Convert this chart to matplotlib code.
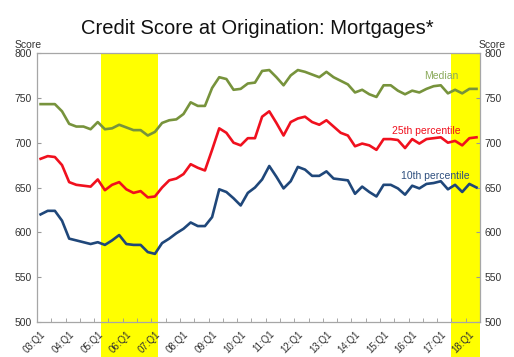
import numpy as np
import matplotlib.pyplot as plt

quarters = [f"{y:02d}:Q{q}" for y in range(3, 19) for q in range(1, 5)][:62]

median = [743, 743, 743, 735, 721, 718, 718, 715, 723, 715, 716, 720, 717, 714, 714, 708,
          712, 722, 725, 726, 732, 745, 741, 741, 761, 773, 771, 759, 760, 766, 767, 780,
          781, 773, 764, 775, 781, 779, 776, 773, 779, 773, 769, 765, 756, 759, 754, 751,
          764, 764, 758, 754, 758, 756, 760, 763, 764, 755, 759, 755, 760, 760]
p25 = [682, 685, 684, 675, 656, 653, 652, 651, 659, 647, 653, 656, 648, 644, 646, 639,
       640, 650, 658, 660, 665, 676, 672, 669, 692, 716, 711, 700, 697, 705, 705, 729,
       735, 722, 708, 723, 727, 729, 723, 720, 725, 718, 711, 708, 696, 699, 697, 692,
       704, 704, 703, 694, 704, 699, 704, 705, 706, 700, 702, 697, 705, 706]
p10 = [620, 624, 624, 613, 593, 591, 589, 587, 589, 586, 591, 597, 587, 586, 586, 578,
       576, 588, 593, 599, 604, 611, 607, 607, 617, 648, 645, 638, 630, 644, 650, 659,
       674, 662, 649, 657, 673, 670, 663, 663, 668, 660, 659, 658, 643, 651, 645, 640,
       653, 653, 649, 642, 652, 649, 654, 655, 657, 648, 653, 645, 654, 650]

# shaded periods (first and last quarter index)
bands = [(9, 16), (58, 61)]

plt.rcParams['font.family'] = ['Liberation Sans', 'DejaVu Sans']

fig = plt.figure(figsize=(5.14, 3.57), dpi=100)
ax = fig.add_axes([0.072, 0.098, 0.862, 0.7535])

x = np.arange(len(quarters))
for a, b in bands:
    ax.axvspan(a - 0.5, b + 0.5, ymin=-0.14, ymax=1, color='#FFFF00',
               lw=0, zorder=0, clip_on=False)

ax.plot(x, median, color='#77933C', lw=1.9, zorder=3)
ax.plot(x, p25, color='#F0101E', lw=1.9, zorder=3)
ax.plot(x, p10, color='#1F477A', lw=1.9, zorder=3)

ax.text(56.1, 774, 'Median', color='#8AAA5A', fontsize=7.5, ha='center', va='center')
ax.text(54, 713, '25th percentile', color='#F0101E', fontsize=7.5, ha='center', va='center')
ax.text(55.2, 663, '10th percentile', color='#2E4F7E', fontsize=7.5, ha='center', va='center')

ax.set_xlim(-0.5, 61.5)
ax.set_ylim(500, 800)
ax.set_yticks(range(500, 801, 50))
ax.set_xticks(x[::4])
ax.set_xticklabels(quarters[::4], rotation=45, ha='right', rotation_mode='anchor')
ax.set_xticks(np.arange(-0.5, 62, 2), minor=True)
ax.tick_params(axis='x', which='major', length=0, pad=5, labelsize=7, labelcolor='#333333')
ax.tick_params(axis='x', which='minor', direction='in', length=3, color='#999999')
ax.tick_params(axis='y', direction='in', length=3, color='#999999', labelsize=7.5,
               labelcolor='#333333', right=True, labelright=True)
for s in ax.spines.values():
    s.set_color('#A6A6A6')
    s.set_linewidth(0.9)

fig.text(0.055, 0.865, 'Score', fontsize=7.5, ha='center', color='#333333')
fig.text(0.957, 0.865, 'Score', fontsize=7.5, ha='center', color='#333333')
fig.text(0.5, 0.92, 'Credit Score at Origination: Mortgages*', fontsize=14.5,
         ha='center', va='center', color='#111111')

fig.savefig('out.png', dpi=100)
